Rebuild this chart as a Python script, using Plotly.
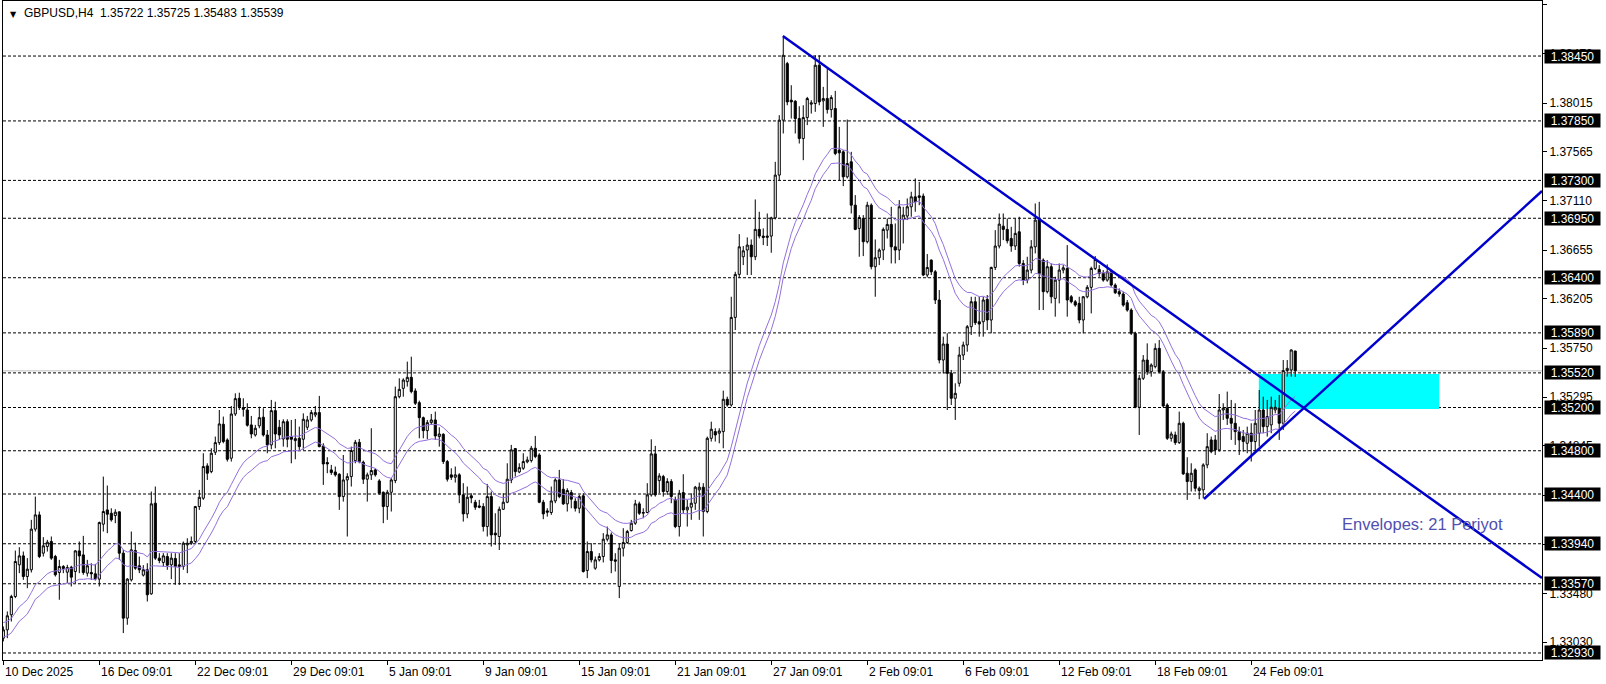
import plotly.graph_objects as go
import pandas as pd

# ---- data ----
opens = [
1.33067,1.33144,1.33283,1.33452,1.33745,1.33828,1.33637,1.33699,1.34075,1.34207,
1.33853,1.33914,1.33961,1.33822,1.33674,1.33730,1.33677,1.33723,1.33683,1.33874,
1.33837,1.33668,1.33674,1.33662,1.33613,1.34121,1.34253,1.34222,1.34201,1.34235,
1.33853,1.33252,1.33606,1.33877,1.33736,1.33650,1.33699,1.33477,1.34315,1.33807,
1.33767,1.33822,1.33745,1.33804,1.33730,1.33730,1.33930,1.33945,1.33961,1.34284,
1.34361,1.34660,1.34607,1.34786,1.34875,1.35045,1.34900,1.34731,1.35140,1.35285,
1.35199,1.35177,1.35039,1.34946,1.35030,1.35110,1.34946,1.34854,1.35171,1.35017,
1.34909,1.35069,1.34931,1.34894,1.34915,1.34906,1.35017,1.35085,1.35131,1.35153,
1.34845,1.34691,1.34623,1.34604,1.34583,1.34376,1.34530,1.34561,1.34709,1.34878,
1.34694,1.34537,1.34577,1.34623,1.34521,1.34416,1.34284,1.34416,1.34524,1.35300,
1.35377,1.35439,1.35479,1.35353,1.35245,1.35106,1.34986,1.35060,1.35085,1.34931,
1.34952,1.34700,1.34577,1.34555,1.34577,1.34392,1.34216,1.34383,1.34324,1.34290,
1.34284,1.34099,1.34376,1.34038,1.34007,1.34259,1.34324,1.34530,1.34820,1.34604,
1.34638,1.34697,1.34709,1.34823,1.34761,1.34324,1.34244,1.34229,1.34336,1.34530,
1.34444,1.34309,1.34413,1.34333,1.34268,1.34383,1.33693,1.33868,1.33714,1.33791,
1.33822,1.33982,1.34022,1.33791,1.33545,1.33899,1.33951,1.34062,1.34130,1.34309,
1.34222,1.34229,1.34392,1.34771,1.34524,1.34561,1.34423,1.34515,1.34346,1.34099,
1.34413,1.34253,1.34278,1.34315,1.34438,1.34463,1.34238,1.34915,1.34977,1.34962,
1.34977,1.35276,1.35223,1.36033,1.36431,1.36594,1.36656,1.36702,1.36594,1.36847,
1.36785,1.36773,1.36785,1.36954,1.37349,1.37857,1.38380,1.38042,1.38032,1.37872,
1.37687,1.37881,1.38005,1.38011,1.38365,1.38035,1.38057,1.37955,1.37965,1.37580,
1.37564,1.37333,1.37472,1.37071,1.36856,1.36948,1.36733,1.37071,1.36502,1.36585,
1.36656,1.36840,1.36893,1.36686,1.36656,1.36939,1.36970,1.37056,1.37148,1.37142,
1.37155,1.36425,1.36563,1.36455,1.36194,1.35639,1.35787,1.35516,1.35285,1.35424,
1.35685,1.35778,1.35947,1.36178,1.35993,1.35993,1.36200,1.36009,1.36495,1.36693,
1.36877,1.36847,1.36763,1.36693,1.36825,1.36532,1.36378,1.36471,1.36686,1.36933,
1.36563,1.36271,1.36502,1.36209,1.36378,1.36471,1.36486,1.36224,1.36178,1.36163,
1.36009,1.36224,1.36311,1.36486,1.36477,1.36440,1.36378,1.36455,1.36332,1.36271,
1.36249,1.36169,1.36101,1.35886,1.35202,1.35470,1.35639,1.35531,1.35578,1.35747,
1.35531,1.35223,1.34915,1.34946,1.34875,1.35054,1.34592,1.34515,1.34623,1.34432,
1.34438,1.34669,1.34900,1.34900,1.34808,1.35177,1.35193,1.35100,1.35054,1.34977,
1.34931,1.34869,1.34962,1.34885,1.34962,1.35177,1.35023,1.35039,1.35177,1.35193,
1.35054,1.35541,1.35547,1.35722]
highs = [
1.33175,1.33314,1.33468,1.33877,1.33908,1.33868,1.33807,1.34161,1.34376,1.34238,
1.34001,1.33976,1.34007,1.33837,1.33791,1.33742,1.33745,1.33736,1.33882,1.33961,
1.34013,1.33791,1.33760,1.33754,1.34145,1.34561,1.34478,1.34268,1.34259,1.34238,
1.33884,1.33622,1.34053,1.33951,1.33822,1.33742,1.33760,1.34423,1.34469,1.33853,
1.33853,1.33853,1.33853,1.33853,1.33853,1.33961,1.33991,1.34007,1.34290,1.34438,
1.34777,1.34684,1.34823,1.34931,1.35177,1.35116,1.34915,1.35214,1.35331,1.35337,
1.35285,1.35239,1.35122,1.35039,1.35208,1.35193,1.34992,1.35270,1.35254,1.35085,
1.35091,1.35091,1.35085,1.35094,1.35023,1.35146,1.35122,1.35177,1.35214,1.35307,
1.34869,1.34740,1.34669,1.34654,1.34592,1.34761,1.34592,1.34838,1.34900,1.34909,
1.34709,1.34598,1.35008,1.34638,1.34537,1.34423,1.34438,1.34546,1.35393,1.35470,
1.35470,1.35624,1.35670,1.35377,1.35263,1.35116,1.35085,1.35140,1.35162,1.35017,
1.34962,1.34715,1.34638,1.34654,1.34592,1.34500,1.34469,1.34407,1.34346,1.34346,
1.34315,1.34493,1.34423,1.34222,1.34284,1.34407,1.34684,1.34854,1.34823,1.34684,
1.34777,1.34746,1.34845,1.34937,1.34777,1.34346,1.34268,1.34469,1.34546,1.34623,
1.34537,1.34453,1.34438,1.34361,1.34392,1.34407,1.33961,1.33945,1.33822,1.33853,
1.34038,1.34099,1.34044,1.33853,1.33945,1.34084,1.34068,1.34161,1.34346,1.34330,
1.34268,1.34500,1.34906,1.34845,1.34592,1.34577,1.34546,1.34537,1.34376,1.34438,
1.34583,1.34346,1.34407,1.34475,1.34506,1.34500,1.34931,1.35069,1.35008,1.35008,
1.35356,1.35300,1.36224,1.36455,1.36803,1.36693,1.36773,1.36754,1.37124,1.37010,
1.36856,1.36994,1.36964,1.37472,1.37903,1.38627,1.38396,1.38180,1.38042,1.37986,
1.37995,1.38072,1.38042,1.38457,1.38457,1.38165,1.38334,1.38088,1.38128,1.37795,
1.37580,1.37863,1.37564,1.37164,1.36979,1.36979,1.37102,1.37087,1.36754,1.36671,
1.36865,1.36948,1.37056,1.36902,1.37118,1.37056,1.37133,1.37195,1.37318,1.37287,
1.37179,1.36619,1.36569,1.36471,1.36286,1.35855,1.35886,1.35547,1.35424,1.35762,
1.35809,1.35963,1.36224,1.36224,1.36224,1.36224,1.36240,1.36502,1.36840,1.36994,
1.36994,1.36948,1.36871,1.36948,1.36964,1.36563,1.36594,1.36748,1.37087,1.37102,
1.36579,1.36563,1.36532,1.36409,1.36532,1.36517,1.36702,1.36240,1.36194,1.36224,
1.36231,1.36332,1.36502,1.36600,1.36517,1.36471,1.36523,1.36471,1.36348,1.36301,
1.36271,1.36194,1.36117,1.35901,1.35501,1.35685,1.35793,1.35608,1.35793,1.35824,
1.35547,1.35239,1.34977,1.34977,1.35162,1.35069,1.34740,1.34684,1.34638,1.34469,
1.34684,1.34962,1.34931,1.34946,1.35325,1.35239,1.35347,1.35270,1.35239,1.35023,
1.34992,1.35023,1.35054,1.35177,1.35362,1.35300,1.35270,1.35300,1.35270,1.35316,
1.35639,1.35639,1.35738,1.35725]
lows = [
1.33037,1.33067,1.33221,1.33437,1.33668,1.33606,1.33529,1.33674,1.34053,1.33807,
1.33822,1.33868,1.33791,1.33637,1.33422,1.33668,1.33576,1.33545,1.33576,1.33668,
1.33653,1.33637,1.33606,1.33600,1.33545,1.34053,1.34038,1.34145,1.34130,1.33791,
1.33114,1.33191,1.33591,1.33699,1.33668,1.33637,1.33406,1.33468,1.33791,1.33760,
1.33730,1.33699,1.33613,1.33560,1.33560,1.33699,1.33668,1.33930,1.33945,1.34253,
1.34346,1.34530,1.34592,1.34761,1.34854,1.34869,1.34700,1.34700,1.35122,1.35177,
1.35116,1.35023,1.34915,1.34931,1.35008,1.34931,1.34777,1.34814,1.34823,1.34900,
1.34838,1.34832,1.34684,1.34721,1.34808,1.34808,1.34992,1.35069,1.35110,1.34832,
1.34484,1.34592,1.34577,1.34561,1.34253,1.34330,1.34007,1.34469,1.34684,1.34684,
1.34493,1.34330,1.34530,1.34561,1.34392,1.34130,1.34161,1.34238,1.34500,1.35285,
1.35300,1.35393,1.35331,1.35223,1.34915,1.34915,1.34906,1.35039,1.34900,1.34838,
1.34678,1.34515,1.34530,1.34506,1.34315,1.34145,1.34176,1.34315,1.34253,1.34268,
1.34053,1.34007,1.33914,1.33930,1.33882,1.34253,1.34315,1.34500,1.34561,1.34592,
1.34623,1.34684,1.34691,1.34731,1.34315,1.34167,1.34191,1.34207,1.34315,1.34361,
1.34299,1.34238,1.34268,1.34238,1.34222,1.33674,1.33622,1.33767,1.33699,1.33776,
1.33767,1.33961,1.33668,1.33683,1.33437,1.33822,1.33939,1.34053,1.34115,1.34207,
1.34176,1.34222,1.34376,1.34376,1.34407,1.34376,1.34392,1.34315,1.34084,1.34007,
1.34222,1.34099,1.34161,1.34253,1.34161,1.34007,1.34222,1.34885,1.34885,1.34869,
1.34823,1.35208,1.35208,1.35916,1.36400,1.36517,1.36425,1.36425,1.36563,1.36763,
1.36702,1.36693,1.36631,1.36939,1.37302,1.37734,1.37995,1.37872,1.37734,1.37641,
1.37487,1.37811,1.37918,1.37934,1.37995,1.37795,1.37918,1.37881,1.37533,1.37302,
1.37247,1.37318,1.36994,1.36840,1.36594,1.36600,1.36717,1.36477,1.36224,1.36517,
1.36563,1.36763,1.36532,1.36532,1.36563,1.36717,1.36933,1.36964,1.37010,1.37071,
1.36415,1.36403,1.36425,1.36157,1.35608,1.35516,1.35177,1.35223,1.35085,1.35393,
1.35639,1.35716,1.35870,1.35963,1.35855,1.35855,1.35916,1.35886,1.36471,1.36671,
1.36748,1.36717,1.36640,1.36656,1.36502,1.36332,1.36348,1.36440,1.36625,1.36101,
1.36101,1.36255,1.36163,1.36040,1.36163,1.36440,1.36040,1.36163,1.36132,1.35978,
1.35886,1.36209,1.36070,1.36471,1.36409,1.36363,1.36363,1.36317,1.36249,1.36224,
1.36132,1.36086,1.35870,1.35193,1.34946,1.35454,1.35501,1.35485,1.35562,1.35516,
1.35202,1.34900,1.34885,1.34854,1.34863,1.34577,1.34346,1.34423,1.34423,1.34352,
1.34361,1.34638,1.34777,1.34761,1.34792,1.35085,1.35039,1.34900,1.34854,1.34761,
1.34792,1.34777,1.34700,1.34792,1.34838,1.34962,1.34931,1.34962,1.35146,1.34900,
1.34992,1.35485,1.35485,1.35483]
closes = [
1.33144,1.33274,1.33452,1.33776,1.33828,1.33637,1.33705,1.34075,1.34207,1.33822,
1.33921,1.33954,1.33807,1.33653,1.33730,1.33711,1.33720,1.33631,1.33874,1.33828,
1.33674,1.33736,1.33662,1.33613,1.34136,1.34238,1.34213,1.34161,1.34232,1.33853,
1.33252,1.33613,1.33884,1.33714,1.33699,1.33699,1.33468,1.34309,1.33807,1.33785,
1.33828,1.33742,1.33807,1.33730,1.33745,1.33945,1.33945,1.33961,1.34284,1.34370,
1.34654,1.34592,1.34777,1.34875,1.35048,1.34885,1.34721,1.35140,1.35282,1.35208,
1.35183,1.35036,1.34955,1.35008,1.35106,1.34946,1.34854,1.35171,1.34955,1.34946,
1.35069,1.34906,1.34906,1.34912,1.34838,1.35091,1.35085,1.35153,1.35153,1.34838,
1.34678,1.34678,1.34598,1.34577,1.34376,1.34530,1.34561,1.34802,1.34878,1.34700,
1.34537,1.34577,1.34617,1.34577,1.34407,1.34284,1.34416,1.34530,1.35300,1.35368,
1.35454,1.35479,1.35347,1.35239,1.35106,1.34986,1.35060,1.35085,1.34937,1.34955,
1.34700,1.34537,1.34555,1.34577,1.34392,1.34216,1.34370,1.34364,1.34278,1.34278,
1.34099,1.34376,1.34022,1.34022,1.34259,1.34324,1.34537,1.34808,1.34607,1.34644,
1.34700,1.34715,1.34823,1.34746,1.34324,1.34216,1.34232,1.34336,1.34530,1.34376,
1.34309,1.34432,1.34352,1.34268,1.34376,1.33683,1.33868,1.33791,1.33791,1.33822,
1.33982,1.34022,1.33785,1.33779,1.33899,1.33951,1.34053,1.34130,1.34309,1.34222,
1.34229,1.34392,1.34771,1.34392,1.34567,1.34423,1.34515,1.34376,1.34099,1.34407,
1.34253,1.34278,1.34315,1.34463,1.34463,1.34238,1.34915,1.34999,1.34946,1.34983,
1.35276,1.35223,1.36033,1.36431,1.36686,1.36649,1.36702,1.36594,1.36847,1.36785,
1.36773,1.36785,1.36954,1.37349,1.37857,1.38457,1.38026,1.38026,1.37872,1.37687,
1.37881,1.38057,1.38017,1.38365,1.38026,1.38057,1.37955,1.38066,1.37549,1.37555,
1.37333,1.37456,1.37071,1.36847,1.36957,1.36733,1.37071,1.36502,1.36585,1.36656,
1.36847,1.36893,1.36686,1.36656,1.37056,1.36979,1.37056,1.37148,1.37102,1.37158,
1.36425,1.36495,1.36455,1.36194,1.35639,1.35787,1.35516,1.35285,1.35331,1.35685,
1.35778,1.35947,1.36178,1.35984,1.35972,1.36194,1.36009,1.36495,1.36693,1.36896,
1.36847,1.36742,1.36693,1.36810,1.36532,1.36378,1.36471,1.36686,1.36933,1.36440,
1.36271,1.36502,1.36224,1.36378,1.36471,1.36492,1.36194,1.36178,1.36147,1.36009,
1.36224,1.36311,1.36486,1.36569,1.36440,1.36378,1.36455,1.36332,1.36261,1.36249,
1.36147,1.36101,1.35886,1.35202,1.35470,1.35639,1.35531,1.35593,1.35747,1.35531,
1.35214,1.34915,1.34955,1.34875,1.35054,1.34586,1.34515,1.34592,1.34453,1.34453,
1.34669,1.34838,1.34792,1.34808,1.35177,1.35193,1.35100,1.35054,1.34977,1.34900,
1.34885,1.34962,1.34885,1.35054,1.35177,1.35023,1.35116,1.35202,1.35202,1.35054,
1.35541,1.35562,1.35732,1.35539]

x_tick_labels = ["10 Dec 2025", "16 Dec 09:01", "22 Dec 09:01", "29 Dec 09:01",
                 "5 Jan 09:01", "9 Jan 09:01", "15 Jan 09:01", "21 Jan 09:01",
                 "27 Jan 09:01", "2 Feb 09:01", "6 Feb 09:01", "12 Feb 09:01",
                 "18 Feb 09:01", "24 Feb 09:01"]
x_tick_bars = [0, 24, 48, 72, 96, 120, 144, 168, 192, 216, 240, 264, 288, 312]

y_tick_vals = [1.38925, 1.38470, 1.38015, 1.37565, 1.37110, 1.36655, 1.36205,
               1.35750, 1.35295, 1.34845, 1.34390, 1.33935, 1.33480, 1.33030]

levels = [1.38450, 1.37850, 1.37300, 1.36950, 1.36400, 1.35890, 1.35520,
          1.35200, 1.34800, 1.34400, 1.33940, 1.33570, 1.32930]

bid_price = 1.35539
zone_x = [313.9, 359.0]
zone_y = [1.35186, 1.35510]
down_line_x = [194.9, 384.7]
down_line_y = [1.38635, 1.33623]
up_line_x = [300.2, 384.7]
up_line_y = [1.34354, 1.37202]

env_period = 21
env_dev = 0.0005

n = len(closes)
bars = list(range(n))

ma = pd.Series(closes).ewm(span=env_period, adjust=False).mean()
env_up = ma * (1 + env_dev)
env_dn = ma * (1 - env_dev)

FONT = "Liberation Sans, Arial, sans-serif"
X_MIN, X_MAX = -0.08, 384.7
Y_MIN, Y_MAX = 1.32865, 1.38959

fig = go.Figure()

fig.add_trace(go.Scatter(x=bars, y=env_up, mode="lines",
                         line=dict(color="#9370DB", width=1), hoverinfo="skip"))
fig.add_trace(go.Scatter(x=bars, y=env_dn, mode="lines",
                         line=dict(color="#9370DB", width=1), hoverinfo="skip"))

fig.add_trace(go.Candlestick(
    x=bars, open=opens, high=highs, low=lows, close=closes,
    increasing=dict(fillcolor="#FFFFFF", line=dict(color="#000000", width=1)),
    decreasing=dict(fillcolor="#000000", line=dict(color="#000000", width=1)),
    whiskerwidth=0, hoverinfo="skip"))

fig.add_trace(go.Scatter(x=down_line_x, y=down_line_y, mode="lines",
                         line=dict(color="#0000CD", width=2.5), hoverinfo="skip"))
fig.add_trace(go.Scatter(x=up_line_x, y=up_line_y, mode="lines",
                         line=dict(color="#0000CD", width=2.5), hoverinfo="skip"))

shapes = []
shapes.append(dict(type="rect", xref="x", yref="y", x0=zone_x[0], x1=zone_x[1],
                   y0=zone_y[0], y1=zone_y[1], fillcolor="#00FFFF",
                   line=dict(width=0), layer="below"))
shapes.append(dict(type="line", xref="paper", yref="y", x0=0, x1=1,
                   y0=bid_price, y1=bid_price, line=dict(color="#C0C0C0", width=1),
                   layer="below"))
for lv in levels:
    shapes.append(dict(type="line", xref="paper", yref="y", x0=0, x1=1, y0=lv, y1=lv,
                       line=dict(color="#000000", width=1, dash="3px,2px"),
                       layer="below"))

annotations = []
for lv in levels:
    annotations.append(dict(xref="paper", yref="y", x=1.0013, y=lv, xanchor="left",
                            yanchor="middle", text=f"{lv:.5f}", showarrow=False,
                            bgcolor="#000000", font=dict(family=FONT, size=12, color="#FFFFFF"),
                            width=53, height=11, borderpad=1, align="center"))
for b, t in zip(x_tick_bars, x_tick_labels):
    annotations.append(dict(xref="x", yref="paper", x=b, y=0, xanchor="left",
                            yanchor="top", yshift=-3, text=t, showarrow=False,
                            font=dict(family=FONT, size=12, color="#000000")))
annotations.append(dict(xref="paper", yref="paper", x=0.0035, y=1, xanchor="left",
                        yanchor="top", yshift=-7, text="▼", showarrow=False,
                        font=dict(family="DejaVu Sans", size=8, color="#000000")))
annotations.append(dict(xref="paper", yref="paper", x=0.0124, y=1, xanchor="left",
                        yanchor="top", yshift=-3,
                        text="GBPUSD,H4  1.35722 1.35725 1.35483 1.35539",
                        showarrow=False, font=dict(family=FONT, size=12, color="#000000")))
annotations.append(dict(xref="x", yref="y", x=334.3, y=1.34123, xanchor="left",
                        yanchor="middle", text="Envelopes: 21 Periyot", showarrow=False,
                        font=dict(family=FONT, size=16.5, color="#5050B0")))

fig.update_layout(
    width=1606, height=684,
    margin=dict(l=3, r=64, t=1, b=24, autoexpand=False),
    paper_bgcolor="#FFFFFF", plot_bgcolor="#FFFFFF",
    showlegend=False, boxgap=0.25,
    shapes=shapes, annotations=annotations,
    xaxis=dict(range=[X_MIN, X_MAX], showgrid=False, zeroline=False,
               showline=True, linecolor="#000000", linewidth=1, mirror=True,
               tickvals=x_tick_bars, ticks="outside", ticklen=4, tickcolor="#000000",
               showticklabels=False, rangeslider=dict(visible=False), fixedrange=True,
               automargin=False),
    yaxis=dict(range=[Y_MIN, Y_MAX], side="right", showgrid=False, zeroline=False,
               showline=True, linecolor="#000000", linewidth=1, mirror=True,
               tickvals=y_tick_vals, ticktext=[f"{v:.5f}" for v in y_tick_vals],
               ticks="outside", ticklen=4, tickcolor="#000000",
               tickfont=dict(family=FONT, size=12, color="#000000"), fixedrange=True,
               automargin=False),
)

fig.write_html("out.html", config={"displayModeBar": False},
               post_script="document.body.style.margin='0';document.body.style.overflow='hidden';")
